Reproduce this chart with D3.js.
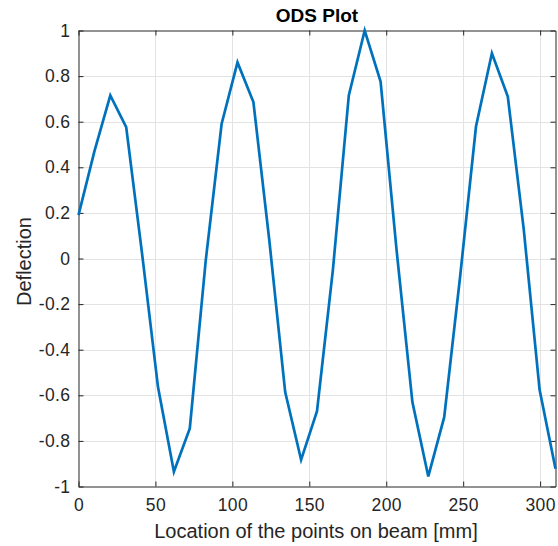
<!DOCTYPE html>
<html>
<head>
<meta charset="utf-8">
<script src="https://cdn.jsdelivr.net/npm/d3@7"></script>
<style>
  body { margin: 0; background: #fff; }
  text { font-family: "Liberation Sans", Arial, sans-serif; fill: #262626; }
</style>
</head>
<body>
<svg id="chart" width="558" height="546"></svg>
<script>
// Beam point locations [mm] and measured ODS deflection
var locations = [0, 10.33, 20.67, 31, 41.33, 51.67, 62, 72.33, 82.67, 93,
  103.33, 113.67, 124, 134.33, 144.67, 155, 165.33, 175.67, 186, 196.33,
  206.67, 217, 227.33, 237.67, 248, 258.33, 268.67, 279, 289.33, 299.67, 310];
var deflection = [0.19, 0.47, 0.715, 0.576, 0.02, -0.564, -0.935, -0.745, -0.01, 0.59,
  0.86, 0.686, 0.08, -0.586, -0.883, -0.67, -0.05, 0.715, 1.0, 0.776,
  0.04, -0.63, -0.956, -0.696, -0.08, 0.579, 0.9, 0.71, 0.13, -0.576, -0.922];
var xTicks = [0, 50, 100, 150, 200, 250, 300];
var yTicks = [-1, -0.8, -0.6, -0.4, -0.2, 0, 0.2, 0.4, 0.6, 0.8, 1];

var pLeft = 78.5, pRight = 555.5, pTop = 30.5, pBottom = 486.5;
var svg = d3.select("#chart");

var x = d3.scaleLinear().domain([0, 310]).range([pLeft, pRight]);
var y = d3.scaleLinear().domain([-1, 1]).range([pBottom, pTop]);

// grid
svg.append("g").selectAll("line")
    .data(xTicks.slice(1))
    .enter().append("line")
    .attr("x1", function(d) { return Math.round(x(d)) + 0.5; })
    .attr("x2", function(d) { return Math.round(x(d)) + 0.5; })
    .attr("y1", pTop).attr("y2", pBottom)
    .attr("stroke", "#e3e3e3").attr("stroke-width", 1);
svg.append("g").selectAll("line")
    .data(yTicks.slice(1, -1))
    .enter().append("line")
    .attr("y1", function(d) { return Math.round(y(d)) + 0.5; })
    .attr("y2", function(d) { return Math.round(y(d)) + 0.5; })
    .attr("x1", pLeft).attr("x2", pRight)
    .attr("stroke", "#e3e3e3").attr("stroke-width", 1);

// axes (inward ticks, box on)
var fmt = function(d) { return String(+d.toFixed(1)); };
svg.append("g")
    .attr("transform", "translate(0," + pBottom + ")")
    .call(d3.axisBottom(x).tickValues(xTicks).tickSizeInner(-5).tickSizeOuter(0).tickPadding(12));
svg.append("g")
    .attr("transform", "translate(" + pLeft + ",0)")
    .call(d3.axisLeft(y).tickValues(yTicks).tickFormat(fmt).tickSizeInner(-5).tickSizeOuter(0).tickPadding(8));
svg.append("g")
    .attr("transform", "translate(0," + pTop + ")")
    .call(d3.axisTop(x).tickValues(xTicks).tickFormat("").tickSizeInner(-5).tickSizeOuter(0));
svg.append("g")
    .attr("transform", "translate(" + pRight + ",0)")
    .call(d3.axisRight(y).tickValues(yTicks).tickFormat("").tickSizeInner(-5).tickSizeOuter(0));

svg.selectAll(".domain, .tick line").attr("stroke", "#262626");
svg.selectAll(".tick text")
    .attr("font-size", 17.5)
    .attr("letter-spacing", 0.4)
    .attr("font-family", "Liberation Sans, Arial, sans-serif")
    .attr("fill", "#262626");

// data line
var line = d3.line()
    .x(function(d, i) { return x(locations[i]); })
    .y(function(d) { return y(d); });
svg.append("path")
    .datum(deflection)
    .attr("d", line)
    .attr("fill", "none")
    .attr("stroke", "#0072BD")
    .attr("stroke-width", 2.7)
    .attr("stroke-linejoin", "miter");

// labels
svg.append("text")
    .attr("x", (pLeft + pRight) / 2).attr("y", 22)
    .attr("text-anchor", "middle")
    .attr("font-size", 19).attr("font-weight", "bold")
    .style("fill", "#000")
    .text("ODS Plot");
svg.append("text")
    .attr("x", (pLeft + pRight) / 2 - 1).attr("y", 538)
    .attr("text-anchor", "middle")
    .attr("font-size", 20)
    .text("Location of the points on beam [mm]");
svg.append("text")
    .attr("transform", "translate(31," + ((pTop + pBottom) / 2 + 3) + ")rotate(-90)")
    .attr("text-anchor", "middle")
    .attr("font-size", 20)
    .text("Deflection");
</script>
</body>
</html>
